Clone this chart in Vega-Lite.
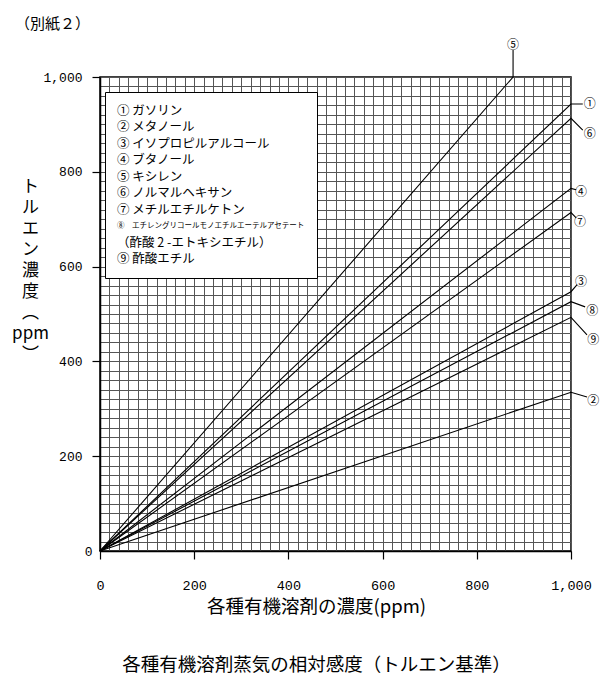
{
  "$schema": "https://vega.github.io/schema/vega-lite/v6.json",
  "width": 471,
  "height": 474,
  "autosize": {"type": "none"},
  "padding": {"left": 100, "top": 77, "right": 41, "bottom": 142},
  "background": "white",
  "title": {"text": "（別紙２）", "anchor": "start", "frame": "group", "dx": -85, "offset": 7, "font": "Noto Sans CJK JP", "fontSize": 15, "fontWeight": "normal", "color": "black"},
  "config": {"view": {"stroke": "black", "strokeWidth": 1.5}},
  "datasets": {
    "lines": [
      {"s": "1", "i": 0, "x": 0, "y": 0}, {"s": "1", "i": 1, "x": 1000, "y": 943}, {"s": "1", "i": 2, "x": 1025, "y": 943},
      {"s": "2", "i": 0, "x": 0, "y": 0}, {"s": "2", "i": 1, "x": 1000, "y": 335}, {"s": "2", "i": 2, "x": 1034, "y": 325},
      {"s": "3", "i": 0, "x": 0, "y": 0}, {"s": "3", "i": 1, "x": 1000, "y": 547}, {"s": "3", "i": 2, "x": 1013, "y": 562},
      {"s": "4", "i": 0, "x": 0, "y": 0}, {"s": "4", "i": 1, "x": 1000, "y": 765}, {"s": "4", "i": 2, "x": 1011, "y": 762},
      {"s": "5", "i": 0, "x": 0, "y": 0}, {"s": "5", "i": 1, "x": 877, "y": 1000}, {"s": "5", "i": 2, "x": 877, "y": 1057},
      {"s": "6", "i": 0, "x": 0, "y": 0}, {"s": "6", "i": 1, "x": 1000, "y": 913}, {"s": "6", "i": 2, "x": 1025, "y": 888},
      {"s": "7", "i": 0, "x": 0, "y": 0}, {"s": "7", "i": 1, "x": 1000, "y": 714}, {"s": "7", "i": 2, "x": 1011, "y": 703},
      {"s": "8", "i": 0, "x": 0, "y": 0}, {"s": "8", "i": 1, "x": 1000, "y": 526}, {"s": "8", "i": 2, "x": 1030, "y": 515},
      {"s": "9", "i": 0, "x": 0, "y": 0}, {"s": "9", "i": 1, "x": 1000, "y": 493}, {"s": "9", "i": 2, "x": 1034, "y": 456}
    ],
    "marks": [
      {"s": "①", "x": 1040, "y": 943},
      {"s": "②", "x": 1047, "y": 316},
      {"s": "③", "x": 1021, "y": 568},
      {"s": "④", "x": 1021, "y": 757},
      {"s": "⑤", "x": 877, "y": 1068},
      {"s": "⑥", "x": 1040, "y": 880},
      {"s": "⑦", "x": 1019, "y": 694},
      {"s": "⑧", "x": 1045, "y": 506},
      {"s": "⑨", "x": 1047, "y": 445}
    ]
  },
  "layer": [
    {
      "data": {"name": "lines"},
      "mark": {"type": "line", "strokeWidth": 1.1, "clip": false},
      "encoding": {
        "x": {
          "field": "x", "type": "quantitative",
          "scale": {"domain": [0, 1000], "nice": false, "zero": true},
          "axis": {
            "values": [0,20,40,60,80,100,120,140,160,180,200,220,240,260,280,300,320,340,360,380,400,420,440,460,480,500,520,540,560,580,600,620,640,660,680,700,720,740,760,780,800,820,840,860,880,900,920,940,960,980,1000],
            "tickCount": 60,
            "grid": true, "gridColor": "#555", "gridWidth": 1,
            "domainColor": "black", "domainWidth": 1.5,
            "tickColor": "black", "tickSize": 8, "tickWidth": 1.2,
            "tickOpacity": {"condition": {"test": "datum.value % 200 === 0", "value": 1}, "value": 0},
            "labelExpr": "datum.value % 200 === 0 ? format(datum.value, ',') : ''",
            "labelFont": "Liberation Mono", "labelFontSize": 13.5, "labelColor": "black",
            "labelPadding": 19, "labelFlush": false, "labelOverlap": false, "labelBound": false,
            "title": ["各種有機溶剤の濃度(ppm)", "各種有機溶剤蒸気の相対感度（トルエン基準）"],
            "titleFont": "Noto Sans CJK JP", "titleFontSize": 18.5, "titleFontWeight": "normal", "titleColor": "black",
            "titleAlign": "center", "titleAnchor": null, "titleX": 216, "titleY": 46, "titleBaseline": "top", "titleLineHeight": 58
          }
        },
        "y": {
          "field": "y", "type": "quantitative",
          "scale": {"domain": [0, 1000], "nice": false, "zero": true},
          "axis": {
            "values": [0,20,40,60,80,100,120,140,160,180,200,220,240,260,280,300,320,340,360,380,400,420,440,460,480,500,520,540,560,580,600,620,640,660,680,700,720,740,760,780,800,820,840,860,880,900,920,940,960,980,1000],
            "tickCount": 60,
            "grid": true, "gridColor": "#555", "gridWidth": 1,
            "domainColor": "black", "domainWidth": 1.5,
            "tickColor": "black", "tickSize": 8, "tickWidth": 1.2,
            "tickOpacity": {"condition": {"test": "datum.value % 200 === 0 && datum.value > 0", "value": 1}, "value": 0},
            "labelExpr": "datum.value % 200 === 0 ? format(datum.value, ',') : ''",
            "labelFont": "Liberation Mono", "labelFontSize": 13, "labelColor": "black",
            "labelPadding": {"condition": {"test": "datum.value === 0", "value": 0}, "value": 10},
            "labelFlush": false, "labelOverlap": false, "labelBound": false,
            "title": ["ト", "ル", "エ", "ン", "濃", "度", "︵", "ppm", "︶"],
            "titleFont": "Noto Sans CJK JP", "titleFontSize": 17, "titleFontWeight": "normal", "titleColor": "black",
            "titleAngle": 0, "titleAlign": "center", "titleAnchor": null, "titleX": -70, "titleY": 101, "titleBaseline": "top", "titleLineHeight": 21
          }
        },
        "order": {"field": "i", "type": "quantitative"},
        "color": {
          "field": "s", "type": "nominal",
          "scale": {"domain": ["1", "2", "3", "4", "5", "6", "7", "8", "8b", "9"], "range": ["black"]},
          "legend": {
            "orient": "none", "legendX": 5, "legendY": 15, "title": null,
            "fillColor": "white", "strokeColor": "black", "padding": 12,
            "symbolType": "square", "symbolSize": 169, "symbolOpacity": 0, "symbolStrokeWidth": 0,
            "labelOffset": -13, "rowPadding": 3.5,
            "labelFont": "Noto Sans CJK JP", "labelColor": "black", "labelLimit": 0,
            "labelFontSize": {"expr": "datum.value === '8' ? 7.5 : 12.5"},
            "labelExpr": "{'1': '①  ガソリン', '2': '②  メタノール', '3': '③  イソプロピルアルコール', '4': '④  ブタノール', '5': '⑤  キシレン', '6': '⑥  ノルマルヘキサン', '7': '⑦  メチルエチルケトン', '8': '⑧　エチレングリコールモノエチルエーテルアセテート', '8b': '　  （酢酸 2 -エトキシエチル）', '9': '⑨  酢酸エチル'}[datum.value]"
          }
        }
      }
    },
    {
      "data": {"name": "marks"},
      "mark": {"type": "text", "font": "Noto Sans CJK JP", "fontSize": 12, "align": "center", "baseline": "middle", "color": "black"},
      "encoding": {
        "x": {"field": "x", "type": "quantitative"},
        "y": {"field": "y", "type": "quantitative"},
        "text": {"field": "s"}
      }
    }
  ]
}
